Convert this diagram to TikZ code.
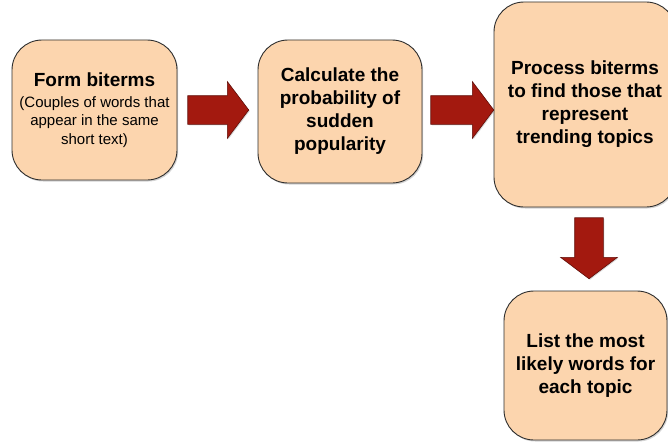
\documentclass[tikz,border=0pt]{standalone}
\usepackage{fontspec}
\setmainfont{Liberation Sans}
\usetikzlibrary{shapes.arrows,shadows,calc}
\definecolor{boxFill}{HTML}{FCD5AE}
\definecolor{boxLine}{HTML}{2E2E2E}
\definecolor{arrowRed}{HTML}{A3190F}
\begin{document}
\begin{tikzpicture}[x=1pt,y=-1pt,
  stage/.style={draw=boxLine,line width=0.9pt,rounded corners=30pt,fill=boxFill,align=center,
    font=\fontsize{19}{23}\selectfont\bfseries,inner sep=0pt,
    drop shadow={shadow xshift=1.2pt,shadow yshift=-1.5pt,opacity=0.35}},
  flow/.style={single arrow,draw=arrowRed!60!black,fill=arrowRed,line width=0.6pt,inner xsep=0pt,inner ysep=14pt,
    minimum height=61pt,single arrow head extend=14pt,single arrow tip angle=106,anchor=tail,
    drop shadow={shadow xshift=1pt,shadow yshift=-1pt,opacity=0.3}}]
  \useasboundingbox (0,0) rectangle (668,444);
  \node[stage,minimum width=165pt,minimum height=140pt,font=\fontsize{15}{18.3}\selectfont] (form) at (94.5,110)
    {{\fontsize{19}{23}\selectfont\bfseries Form biterms}\\[2.7pt](Couples of words that\\ appear in the same\\ short text)};
  \node[stage,minimum width=164pt,minimum height=143pt] (calc) at (340,111.5)
    {Calculate the\\ probability of\\ sudden\\ popularity};
  \node[stage,minimum width=182pt,minimum height=205pt] (proc) at (585,104.5)
    {Process biterms\\ to find those that\\ represent\\ trending topics};
  \node[stage,minimum width=163pt,minimum height=149pt] (list) at (585.5,365.5)
    {List the most\\ likely words for\\ each topic};
  % block arrows between the stages
  \node[flow] (a1) at ($(form.east|-0,110)+(10,0)$) {};
  \node[flow,minimum height=63pt] (a2) at ($(calc.east|-0,110)+(8,0)$) {};
  \node[flow,shape border rotate=270,inner xsep=14pt,inner ysep=0pt] (a3) at ($(proc.south)+(4,10)$) {};
\end{tikzpicture}
\end{document}
